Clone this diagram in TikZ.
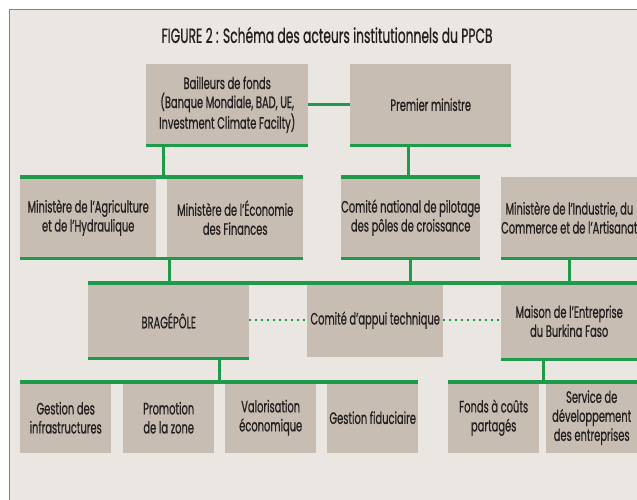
\documentclass[tikz,border=0pt]{standalone}
\usepackage{fontspec}
\setmainfont{Poppins}[FakeStretch=0.6,FakeBold=0.7]
\definecolor{bg}{HTML}{EAE6E1}
\definecolor{boxc}{HTML}{C8BDB2}
\definecolor{grn}{HTML}{1E9A4A}
\definecolor{brd}{HTML}{3FAE64}
\definecolor{txt}{HTML}{231F20}
\begin{document}
\begin{tikzpicture}[x=1pt,y=-1pt,
  box/.style={fill=boxc, draw=none, inner sep=0pt, anchor=north west, align=center,
    font=\fontsize{16.5}{19}\selectfont, text=txt},
  bus/.style={draw=grn, line width=3.5pt},
  link/.style={draw=grn, line width=3pt},
  dots/.style={draw=grn, line width=2pt, dash pattern=on 2pt off 4pt}]
\useasboundingbox (0,0) rectangle (637,499);
\fill[white] (0,0) rectangle (637,499);
\fill[bg] (9.5,9.5) rectangle (640,502);
\draw[brd, line width=1.5pt] (640,9.5) -- (9.5,9.5) -- (9.5,502);

\node[font=\fontsize{20.5}{24}\selectfont, text=txt] (T) at (327,35) {FIGURE 2 : Schéma des acteurs institutionnels du PPCB};

% row 1
\node[box, minimum width=162pt, minimum height=81pt] (B) at (146,64) {Bailleurs de fonds\\(Banque Mondiale, BAD, UE,\\Investment Climate Facilty)};
\node[box, minimum width=161pt, minimum height=81pt] (P) at (350,64) {Premier ministre};
% row 2
\node[box, minimum width=136pt, minimum height=81pt] (A) at (20,177) {Ministère de l’Agriculture\\et de l’Hydraulique};
\node[box, minimum width=136pt, minimum height=81pt] (E) at (167,177) {Ministère de l’Économie\\des Finances};
\node[box, minimum width=135pt, minimum height=81pt] (C) at (341,177) {Comité national de pilotage\\des pôles de croissance};
\node[box, minimum width=136pt, minimum height=81pt] (I) at (501,177) {Ministère de l’Industrie, du\\Commerce et de l’Artisanat};
% row 3
\node[box, minimum width=161pt, minimum height=75pt] (BR) at (88,283) {BRAGÉPÔLE};
\node[box, minimum width=136pt, minimum height=74pt] (CAT) at (307,283) {Comité d’appui technique};
\node[box, minimum width=136pt, minimum height=76pt] (M) at (501,283) {Maison de l’Entreprise\\du Burkina Faso};
% row 4
\node[box, minimum width=91pt, minimum height=71pt] (G1) at (20,382) {Gestion des\\infrastructures};
\node[box, minimum width=91pt, minimum height=71pt] (G2) at (123,382) {Promotion\\de la zone};
\node[box, minimum width=91pt, minimum height=71pt] (G3) at (225,382) {Valorisation\\économique};
\node[box, minimum width=91pt, minimum height=71pt] (G4) at (327,382) {Gestion fiduciaire};
\node[box, minimum width=91pt, minimum height=71pt] (F) at (448,382) {Fonds à coûts\\partagés};
\node[box, minimum width=91pt, minimum height=71pt] (S) at (546,382) {Service de\\développement\\des entreprises};

% bottom lines
\draw[link] (B.south west) -- (B.south east);
\draw[link] (P.south west) -- (P.south east);
\draw[link] (A.south west) -- (E.south east);
\draw[link] (C.south west) -- (C.south east);
\draw[link] (I.south west) -- (I.south east);
\draw[link] (BR.south west) -- (BR.south east);
\draw[link] (M.south west) -- (M.south east);
% top buses
\draw[bus] (A.north west) -- (E.north east);
\draw[bus] (C.north west) -- (C.north east);
\draw[bus] (BR.north west) -- (M.north east);
\draw[bus] (G1.north west) -- (G4.north east);
\draw[bus] (F.north west) -- (S.north east);
% connectors
\draw[link] (B.east) -- (P.west);
\coordinate (bj) at (163,145);
\coordinate (pj) at (408,145);
\coordinate (aj) at (169,258);
\coordinate (brj) at (219,358);
\coordinate (mj) at (543,359);
\draw[link] (bj) -- (bj |- A.north);
\draw[link] (pj) -- (pj |- C.north);
\draw[link] (aj) -- (aj |- BR.north);
\draw[link] (C.south) -- (C.south |- BR.north);
\draw[link] (I.south) -- (I.south |- M.north);
\draw[link] (brj) -- (brj |- G1.north);
\draw[link] (mj) -- (mj |- F.north);
% dotted
\draw[dots] (CAT.west -| BR.east) -- (CAT.west);
\draw[dots] (CAT.east) -- (CAT.east -| M.west);
\end{tikzpicture}
\end{document}
